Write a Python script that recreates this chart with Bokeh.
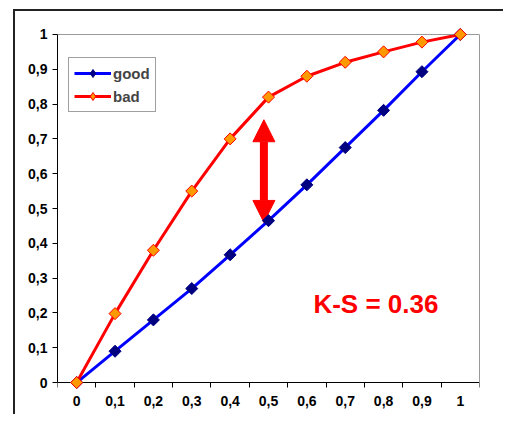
import numpy as np
from bokeh.plotting import figure
from bokeh.models import (FixedTicker, Legend, LegendItem, Label, Arrow, NormalHead,
                          LinearAxis)
from bokeh.embed import file_html
from bokeh.resources import INLINE

# Data
x_vals = [0.0, 0.1, 0.2, 0.3, 0.4, 0.5, 0.6, 0.7, 0.8, 0.9, 1.0]
x_labels = ["0", "0,1", "0,2", "0,3", "0,4", "0,5", "0,6", "0,7", "0,8", "0,9", "1"]
good = [0.0, 0.09, 0.18, 0.27, 0.367, 0.465, 0.568, 0.675, 0.782, 0.893, 1.0]
bad = [0.0, 0.198, 0.38, 0.55, 0.70, 0.82, 0.88, 0.92, 0.95, 0.978, 1.0]
y_ticks = [0.0, 0.1, 0.2, 0.3, 0.4, 0.5, 0.6, 0.7, 0.8, 0.9, 1.0]
y_labels = ["0", "0,1", "0,2", "0,3", "0,4", "0,5", "0,6", "0,7", "0,8", "0,9", "1"]
x_bounds = [-0.05, 0.05, 0.15, 0.25, 0.35, 0.45, 0.55, 0.65, 0.75, 0.85, 0.95, 1.05]
ks_text = "K-S = 0.36"
arrow_x = 0.488
arrow_top = 0.755
arrow_bottom = 0.46

FONT = "Liberation Sans"

p = figure(width=490, height=405, x_range=(-0.05, 1.05), y_range=(-0.02, 1.02),
           output_backend="svg", toolbar_location=None,
           min_border_left=42, min_border_right=26, min_border_top=16, min_border_bottom=27,
           styles={"margin-left": "15px", "margin-top": "11px",
                   "box-shadow": "-2px -2px 0px 0px #222222"})
p.background_fill_color = "white"
p.border_fill_color = "white"
p.outline_line_color = None
p.xgrid.visible = False
p.ygrid.visible = False

# X axis labels (frame bottom)
p.xaxis.ticker = FixedTicker(ticks=x_vals, minor_ticks=[])
p.xaxis.major_label_overrides = {v: l for v, l in zip(x_vals, x_labels)}
p.xaxis.major_tick_line_color = None
p.xaxis.minor_tick_line_color = None
p.xaxis.axis_line_color = None
p.xaxis.major_tick_out = 0
p.xaxis.major_tick_in = 0
p.xaxis.minor_tick_out = 0
p.xaxis.minor_tick_in = 0
p.xaxis.major_label_standoff = 6
p.xaxis.major_label_text_font = FONT
p.xaxis.major_label_text_font_style = "bold"
p.xaxis.major_label_text_font_size = "14px"
p.xaxis.major_label_text_color = "black"

# X axis line + boundary ticks at y = 0
x_line_axis = LinearAxis(fixed_location=0, ticker=FixedTicker(ticks=[], minor_ticks=x_bounds),
                         axis_line_color="black", major_tick_line_color=None,
                         minor_tick_line_color="black", minor_tick_out=5, minor_tick_in=0,
                         minor_tick_line_width=1,
                         major_tick_out=0, major_tick_in=0, major_label_standoff=0,
                         major_label_text_font_size="0px")
p.add_layout(x_line_axis, "below")

# Y axis
p.yaxis.bounds = (0, 1)
p.yaxis.ticker = FixedTicker(ticks=y_ticks, minor_ticks=[])
p.yaxis.major_label_overrides = {v: l for v, l in zip(y_ticks, y_labels)}
p.yaxis.major_tick_out = 5
p.yaxis.major_tick_in = 0
p.yaxis.axis_line_color = "black"
p.yaxis.major_tick_line_color = "black"
p.yaxis.major_label_standoff = 5
p.yaxis.major_label_text_font = FONT
p.yaxis.major_label_text_font_style = "bold"
p.yaxis.major_label_text_font_size = "14px"
p.yaxis.major_label_text_color = "black"

# Gray plot-area frame (top and right)
top_axis = LinearAxis(fixed_location=1, ticker=FixedTicker(ticks=[], minor_ticks=[]),
                      axis_line_color="#999999", major_label_text_font_size="0px",
                      major_tick_line_color=None, minor_tick_line_color=None)
p.add_layout(top_axis, "above")
right_axis = LinearAxis(bounds=(0, 1), ticker=FixedTicker(ticks=[], minor_ticks=[]),
                        axis_line_color="#999999", major_label_text_font_size="0px",
                        major_tick_line_color=None, minor_tick_line_color=None)
p.add_layout(right_axis, "right")

# Lines and markers
lg = p.line(x_vals, good, line_color="#0000FF", line_width=3)
mg = p.scatter(x_vals, good, marker="square", angle=np.pi / 4, size=8.5,
               fill_color="#000080", line_color="#000080", level="overlay")
lb = p.line(x_vals, bad, line_color="#FF0000", line_width=3)
mb = p.scatter(x_vals, bad, marker="square", angle=np.pi / 4, size=8.5,
               fill_color="#FF9900", line_color="#FF0000", level="overlay")

# legend symbol proxies (diamonds, hidden on the plot)
pg = p.scatter(x_vals, good, marker="diamond", fill_color="#000080", line_color="#000080",
               visible=False)
pb = p.scatter(x_vals, bad, marker="diamond", fill_color="#FF9900", line_color="#FF0000",
               visible=False)

# Arrow
p.add_layout(Arrow(x_start=arrow_x, y_start=arrow_bottom, x_end=arrow_x, y_end=arrow_top,
                   line_color="#FF0000", line_width=8,
                   start=NormalHead(size=22, fill_color="#FF0000", line_color="#FF0000"),
                   end=NormalHead(size=22, fill_color="#FF0000", line_color="#FF0000")))

# K-S label
p.add_layout(Label(x=0.617, y=0.226, text=ks_text, text_font=FONT, text_font_style="bold",
                   text_font_size="26px", text_color="#FF0000", text_baseline="middle"))

legend = Legend(items=[LegendItem(label="good", renderers=[lg, pg]),
                       LegendItem(label="bad", renderers=[lb, pb])],
                location=(11, 277), orientation="vertical")
legend.border_line_color = "#404040"
legend.border_line_width = 1
legend.background_fill_color = "white"
legend.background_fill_alpha = 1
legend.label_text_font = FONT
legend.label_text_font_style = "bold"
legend.label_text_font_size = "15px"
legend.glyph_width = 37
legend.glyph_height = 20
legend.label_height = 20
legend.label_standoff = 2
legend.spacing = 3
legend.padding = 5
legend.margin = 0
p.add_layout(legend, "center")

open("out.html", "w").write(file_html(p, INLINE))
